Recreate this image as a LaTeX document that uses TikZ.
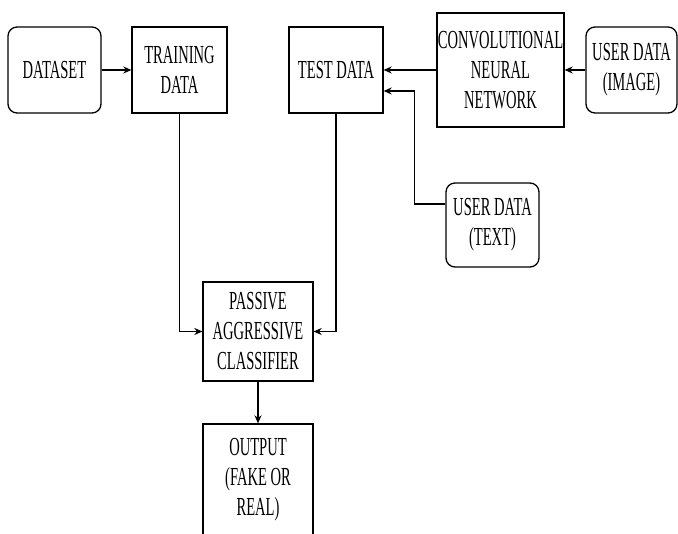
\documentclass[tikz,border=0pt]{standalone}
\usepackage{fontspec}
\setmainfont[FakeStretch=0.56]{Liberation Serif}
\usetikzlibrary{arrows.meta}
\begin{document}
\begin{tikzpicture}[x=1pt,y=-1pt,
  box/.style={draw=black, line width=1.3pt, align=center, inner sep=0pt,
    font=\fontsize{26}{30}\selectfont, text=black},
  rbox/.style={box, rounded corners=9pt},
  arr/.style={draw=black, line width=1.3pt, -{Stealth[length=8pt,width=7pt]}},
  ln/.style={draw=black, line width=1.3pt}]
\useasboundingbox (0,0) rectangle (678,534);
\node[rbox, minimum width=93pt, minimum height=86pt] (ds) at (54.5,70) {DATASET};
\node[box, minimum width=95pt, minimum height=86pt] (train) at (179.5,70) {TRAINING\\DATA};
\node[box, minimum width=94pt, minimum height=86pt] (test) at (336,70) {TEST DATA};
\node[box, minimum width=127pt, minimum height=114pt] (cnn) at (500.5,70) {CONVOLUTIONAL\\NEURAL\\NETWORK};
\node[rbox, minimum width=91pt, minimum height=86pt] (img) at (631.5,70) {USER DATA\\(IMAGE)};
\node[rbox, minimum width=93pt, minimum height=84pt] (txt) at (492.5,225) {USER DATA\\(TEXT)};
\node[box, minimum width=110pt, minimum height=99pt] (pac) at (258,331.5) {PASSIVE\\AGGRESSIVE\\CLASSIFIER};
\node[box, minimum width=110pt, minimum height=112pt] (out) at (258,480) {OUTPUT\\(FAKE OR\\REAL)};
\draw[arr] (ds.east) -- (train.west);
\draw[arr] (cnn.west) -- (test.east);
\draw[arr] (img.west) -- (cnn.east);
\draw[arr] ([yshift=21pt]txt.west) -- ++(-31,0) |- ([yshift=-21pt]test.east);
\draw[arr] (train.south) |- (pac.west);
\draw[arr] (test.south) |- (pac.east);
\draw[arr] (pac.south) -- (out.north);
\end{tikzpicture}
\end{document}
